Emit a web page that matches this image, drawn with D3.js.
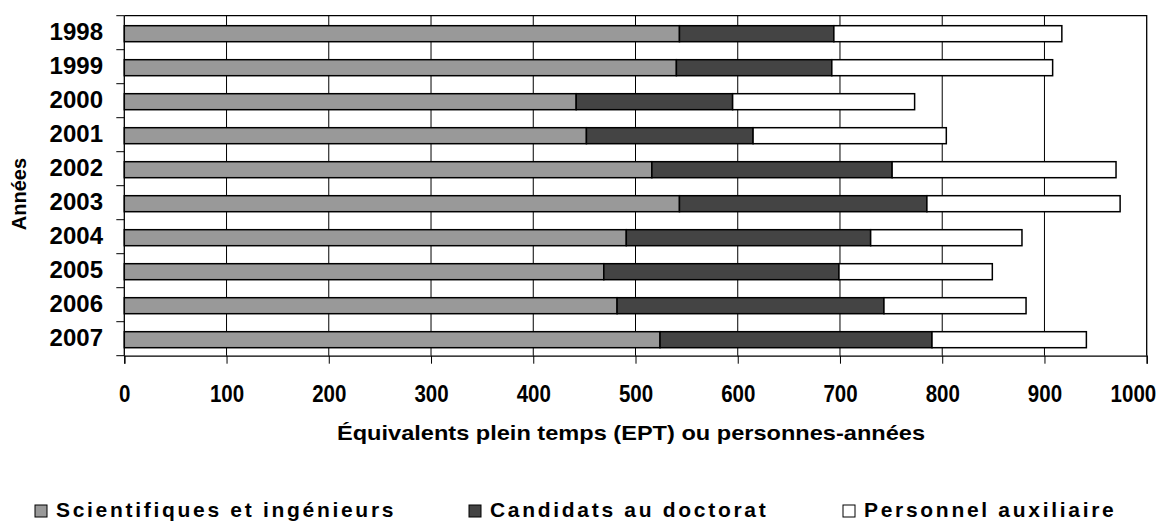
<!DOCTYPE html>
<html>
<head>
<meta charset="utf-8">
<script src="https://cdn.jsdelivr.net/npm/d3@7"></script>
<style>
  html, body { margin: 0; padding: 0; background: #fff; }
  svg { display: block; }
  text { font-family: "Liberation Sans", Arial, sans-serif; font-weight: bold; fill: #000; }
</style>
</head>
<body>
<svg id="chart" width="1174" height="527"></svg>
<script>
const years = ["1998","1999","2000","2001","2002","2003","2004","2005","2006","2007"];
const scientifiques = [543, 540, 442, 452, 516, 543, 491, 469, 482, 524];
const candidats     = [151, 152, 153, 163, 235, 242, 239, 230, 261, 266];
const auxiliaire    = [223, 216, 178, 189, 219, 189, 148, 150, 139, 151];
const seriesNames = ["Scientifiques et ingénieurs", "Candidats au doctorat", "Personnel auxiliaire"];
const seriesColors = ["#999999", "#444444", "#ffffff"];
const xTicks = [0, 100, 200, 300, 400, 500, 600, 700, 800, 900, 1000];
const xTitle = "Équivalents plein temps (EPT) ou personnes-années";
const yTitle = "Années";

const svg = d3.select("#chart");
const L = 124.3, R = 1146.7, T = 15.7, B = 355.7;

const x = d3.scaleLinear().domain([0, 1000]).range([L, R]);
const y = d3.scaleBand().domain(years).range([T, B]);

const keys = ["sci", "doc", "aux"];
const rows = years.map((yr, i) => ({year: yr, sci: scientifiques[i], doc: candidats[i], aux: auxiliaire[i]}));
const stack = d3.stack().keys(keys)(rows);

// gridlines
svg.append("g").selectAll("line").data(xTicks.slice(1, -1)).join("line")
  .attr("x1", d => x(d)).attr("x2", d => x(d))
  .attr("y1", T).attr("y2", B)
  .attr("stroke", "#000").attr("stroke-width", 1);

// frame (top, right)
svg.append("path")
  .attr("d", `M${L},${T}H${R}V${B}`)
  .attr("fill", "none").attr("stroke", "#000").attr("stroke-width", 1.3);

// bars
const bh = 16;
stack.forEach((layer, k) => {
  svg.append("g").selectAll("rect").data(layer).join("rect")
    .attr("x", d => x(d[0]))
    .attr("width", d => x(d[1]) - x(d[0]))
    .attr("y", d => y(d.data.year) + (y.bandwidth() - bh) / 2 + 1)
    .attr("height", bh)
    .attr("fill", seriesColors[k])
    .attr("stroke", "#000").attr("stroke-width", 1.5);
});

// x axis
const xAxis = svg.append("g").attr("transform", `translate(0,${B})`)
  .call(d3.axisBottom(x).tickValues(xTicks).tickSize(8).tickPadding(22).tickFormat(d3.format("d")));
xAxis.select(".domain").attr("stroke", "#000").attr("stroke-width", 1.3);
xAxis.selectAll(".tick line").attr("stroke", "#000");
xAxis.selectAll(".tick text").attr("font-size", 23).attr("font-family", null).attr("fill", "#000")
  .attr("dy", "0.71em")
  .attr("textLength", function() { return this.textContent.length * 11.4; })
  .attr("lengthAdjust", "spacingAndGlyphs");
// last label kept inside the picture, as in the reference
xAxis.selectAll(".tick text").filter(d => d === xTicks[xTicks.length - 1])
  .attr("text-anchor", "end").attr("x", 9);

// y axis: ticks at band boundaries
const yAxisG = svg.append("g");
yAxisG.append("line").attr("x1", L).attr("x2", L).attr("y1", T).attr("y2", B)
  .attr("stroke", "#000").attr("stroke-width", 1.3);
const boundaries = years.map(d => y(d)).concat([B]);
yAxisG.selectAll("line.tk").data(boundaries).join("line").attr("class", "tk")
  .attr("x1", L - 8).attr("x2", L).attr("y1", d => d).attr("y2", d => d)
  .attr("stroke", "#000").attr("stroke-width", 1);
yAxisG.selectAll("text").data(years).join("text")
  .attr("x", 103).attr("y", d => y(d) + y.bandwidth() / 2 - 1.5)
  .attr("dy", "0.35em")
  .attr("text-anchor", "end").attr("font-size", 24)
  .text(d => d);

// axis titles
svg.append("text").attr("x", 631).attr("y", 440).attr("text-anchor", "middle")
  .attr("font-size", 21).attr("textLength", 588).attr("lengthAdjust", "spacingAndGlyphs")
  .text(xTitle);
svg.append("text").attr("transform", `translate(26,194) rotate(-90)`)
  .attr("text-anchor", "middle").attr("font-size", 20).text(yTitle);

// legend
const legendX = [35, 469, 843];
const lg = svg.append("g").selectAll("g").data(seriesNames).join("g")
  .attr("transform", (d, i) => `translate(${legendX[i]},505)`);
lg.append("rect").attr("width", 12).attr("height", 12)
  .attr("fill", (d, i) => seriesColors[i]).attr("stroke", "#000").attr("stroke-width", 1);
lg.append("text").attr("x", 21).attr("y", 12).attr("font-size", 21)
  .attr("letter-spacing", 2.7).text(d => d);
</script>
</body>
</html>
